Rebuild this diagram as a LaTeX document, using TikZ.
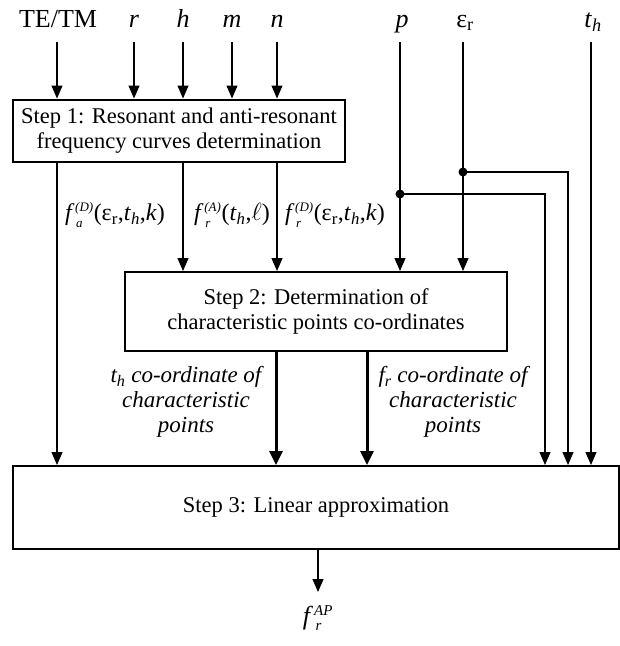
\documentclass[tikz,border=0pt]{standalone}
\usepackage{amsmath}
\usepackage{fontspec}
\setmainfont{Liberation Serif}
\usetikzlibrary{arrows.meta}
\newcommand{\iv}[1]{\textit{#1}}
\newcommand{\epsr}{ε\textsubscript{r}}
\newcommand{\scr}[1]{\text{\fontsize{13}{13}\selectfont\itshape #1}}
\newcommand{\fsym}[2]{$\textit{f}\kern3.5pt^{\scr{#1}}_{\kern1pt\scr{#2}}$}
\begin{document}
\begin{tikzpicture}[x=1pt,y=-1pt,
  font=\fontsize{22.5}{25}\selectfont,
  stepbox/.style={draw, line width=2pt, align=center, inner sep=0pt},
  toplbl/.style={font=\fontsize{26}{28}\selectfont, anchor=base},
  midlbl/.style={font=\fontsize{24}{27}\selectfont},
  sidelbl/.style={align=center, font=\fontsize{23}{25}\selectfont\itshape},
  thinln/.style={line width=1.1pt},
  arr/.style={thinln, -{Triangle[width=11pt,length=13pt]}},
  thickarr/.style={line width=3pt, -{Triangle[width=13pt,length=14pt]}},
  dotnode/.style={circle, fill, inner sep=0pt, minimum size=9pt},
]
\useasboundingbox (0,0) rectangle (620,646);

% boxes
\node[stepbox, minimum width=332pt, minimum height=62pt] (s1) at (179,130.5)
  {Step 1: Resonant and anti-resonant\\frequency curves determination};
\node[stepbox, minimum width=382pt, minimum height=79pt] (s2) at (316,311.5)
  {Step 2: Determination of\\characteristic points co-ordinates};
\node[stepbox, minimum width=606pt, minimum height=83pt] (s3) at (316,507.5)
  {Step 3: Linear approximation};

% top labels
\node[toplbl] (lTE) at (58,27) {TE/TM};
\node[toplbl] (lr) at (134,27) {\iv{r}};
\node[toplbl] (lh) at (183,27) {\iv{h}};
\node[toplbl] (lm) at (232,27) {\iv{m}};
\node[toplbl] (ln) at (277,27) {\iv{n}};
\node[toplbl] (lp) at (402,27) {\iv{p}};
\node[toplbl] (le) at (465,27) {\epsr};
\node[toplbl] (lt) at (593,27) {\iv{t}\textsubscript{\iv{h}}};

% arrow start points
\coordinate (aTE) at (57,42);
\coordinate (ar) at (134,42);
\coordinate (ah) at (183,42);
\coordinate (am) at (232,42);
\coordinate (an) at (277,42);
\coordinate (ap) at (400,42);
\coordinate (ae) at (463,42);
\coordinate (at) at (591,42);
\coordinate (dp) at (400,194);
\coordinate (de) at (463,172);
\coordinate (bp) at (545,0);
\coordinate (be) at (568,0);
\coordinate (ct) at (276,0);
\coordinate (cf) at (367,0);
\coordinate (out) at (318,592);

% inputs to step 1
\foreach \c in {aTE,ar,ah,am,an}
  \draw[arr] (\c) -- (\c |- s1.north);

% step 1 outputs
\draw[arr] (s1.south -| aTE) -- (s3.north -| aTE);
\draw[arr] (s1.south -| ah) -- (s2.north -| ah);
\draw[arr] (s1.south -| an) -- (s2.north -| an);

% p, eps, t_h
\draw[arr] (ap) -- (ap |- s2.north);
\draw[arr] (ae) -- (ae |- s2.north);
\draw[arr] (at) -- (at |- s3.north);
\draw[arr] (dp) -| (bp |- s3.north);
\draw[arr] (de) -| (be |- s3.north);
\node[dotnode] (np) at (dp) {};
\node[dotnode] (ne) at (de) {};

% mid labels
\node[midlbl] (fa) at (115,215) {\fsym{(D)}{a}(\epsr,\iv{t}\textsubscript{\iv{h}},\iv{k})};
\node[midlbl] (frA) at (232,215) {\fsym{(A)}{r}(\iv{t}\textsubscript{\iv{h}},$\ell$)};
\node[midlbl] (frD) at (335,215) {\fsym{(D)}{r}(\epsr,\iv{t}\textsubscript{\iv{h}},\iv{k})};

% thick arrows
\draw[thickarr] (s2.south -| ct) -- (s3.north -| ct);
\draw[thickarr] (s2.south -| cf) -- (s3.north -| cf);

\node[sidelbl] (lth) at (186,402)
  {\iv{t}\textsubscript{\iv{h}} co-ordinate of\\characteristic\\points};
\node[sidelbl] (lfr) at (453,402)
  {\iv{f}\textsubscript{\iv{r}} co-ordinate of\\characteristic\\points};

% output
\draw[arr] (s3.south -| out) -- (out);
\node[font=\fontsize{26}{28}\selectfont] (fap) at (318,618) {$\textit{f}\kern4pt^{\text{\fontsize{15}{15}\selectfont\itshape AP}}_{\kern1.5pt\text{\fontsize{15}{15}\selectfont\itshape r}}$};
\end{tikzpicture}
\end{document}
